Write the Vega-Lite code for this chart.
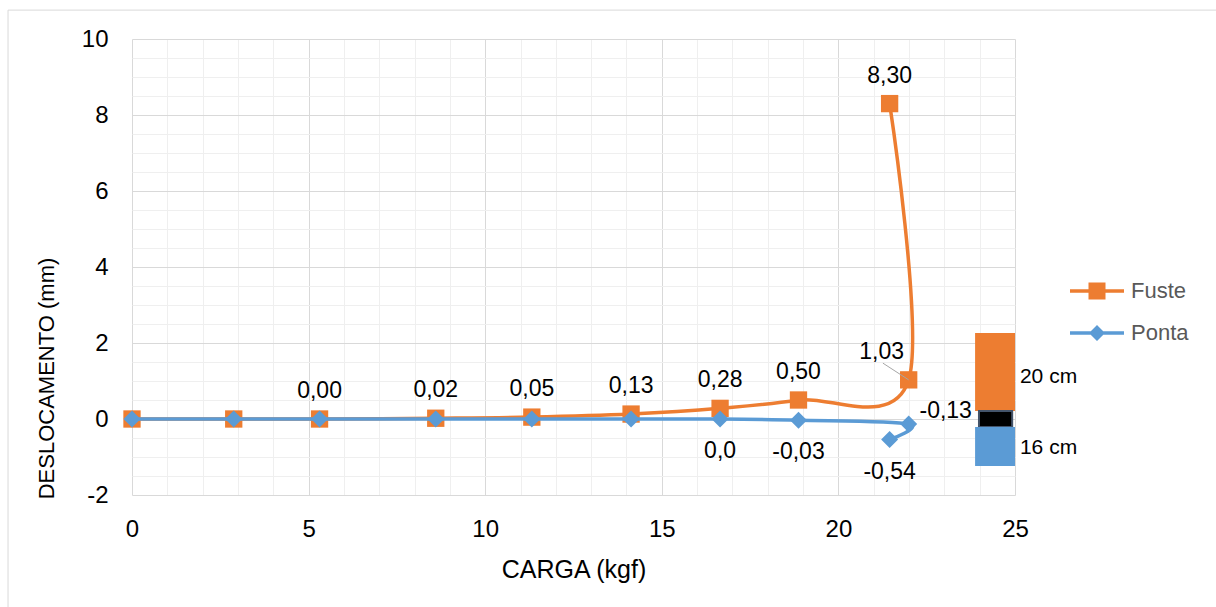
{
  "$schema": "https://vega.github.io/schema/vega-lite/v6.json",
  "width": 883,
  "height": 456,
  "autosize": {"type": "none"},
  "padding": {"left": 132, "top": 39, "right": 201, "bottom": 112},
  "background": "white",
  "config": {
    "font": "Liberation Sans",
    "view": {"stroke": null},
    "text": {"font": "Liberation Sans"}
  },
  "datasets": {
    "pontos": [
      {"serie": "Fuste", "ordem": 0, "carga": 0, "desloc": 0, "rotulo": ""},
      {"serie": "Fuste", "ordem": 1, "carga": 2.88, "desloc": 0, "rotulo": ""},
      {"serie": "Fuste", "ordem": 2, "carga": 5.31, "desloc": 0.0, "rotulo": "0,00"},
      {"serie": "Fuste", "ordem": 3, "carga": 8.6, "desloc": 0.02, "rotulo": "0,02"},
      {"serie": "Fuste", "ordem": 4, "carga": 11.32, "desloc": 0.05, "rotulo": "0,05"},
      {"serie": "Fuste", "ordem": 5, "carga": 14.13, "desloc": 0.13, "rotulo": "0,13"},
      {"serie": "Fuste", "ordem": 6, "carga": 16.65, "desloc": 0.28, "rotulo": "0,28"},
      {"serie": "Fuste", "ordem": 7, "carga": 18.87, "desloc": 0.5, "rotulo": "0,50"},
      {"serie": "Fuste", "ordem": 8, "carga": 21.99, "desloc": 1.03, "rotulo": "1,03"},
      {"serie": "Fuste", "ordem": 9, "carga": 21.45, "desloc": 8.3, "rotulo": "8,30"},
      {"serie": "Ponta", "ordem": 0, "carga": 0, "desloc": 0, "rotulo": ""},
      {"serie": "Ponta", "ordem": 1, "carga": 2.88, "desloc": 0, "rotulo": ""},
      {"serie": "Ponta", "ordem": 2, "carga": 5.31, "desloc": 0, "rotulo": ""},
      {"serie": "Ponta", "ordem": 3, "carga": 8.6, "desloc": 0, "rotulo": ""},
      {"serie": "Ponta", "ordem": 4, "carga": 11.32, "desloc": 0, "rotulo": ""},
      {"serie": "Ponta", "ordem": 5, "carga": 14.13, "desloc": 0, "rotulo": ""},
      {"serie": "Ponta", "ordem": 6, "carga": 16.65, "desloc": 0.0, "rotulo": "0,0"},
      {"serie": "Ponta", "ordem": 7, "carga": 18.87, "desloc": -0.03, "rotulo": "-0,03"},
      {"serie": "Ponta", "ordem": 8, "carga": 21.99, "desloc": -0.13, "rotulo": "-0,13"},
      {"serie": "Ponta", "ordem": 9, "carga": 21.45, "desloc": -0.54, "rotulo": "-0,54"}
    ],
    "borda": [{"carga": -3.51, "carga2": 40, "desloc": 10.76, "desloc2": -10}],
    "guia": [{"carga": 21.26, "carga2": 21.99, "desloc": 1.47, "desloc2": 1.03}],
    "formas": [
      {"parte": "fuste", "carga": 23.87, "carga2": 25.0, "desloc": 2.26, "desloc2": 0.21},
      {"parte": "junta", "carga": 23.98, "carga2": 24.92, "desloc": 0.21, "desloc2": -0.21},
      {"parte": "ponta", "carga": 23.87, "carga2": 25.0, "desloc": -0.21, "desloc2": -1.24}
    ],
    "textos": [
      {"texto": "20 cm", "carga": 25.14, "desloc": 1.1},
      {"texto": "16 cm", "carga": 25.14, "desloc": -0.76}
    ]
  },
  "encoding": {
    "x": {
      "field": "carga", "type": "quantitative", "title": "CARGA (kgf)",
      "scale": {"domain": [0, 25], "nice": false, "zero": false},
      "axis": {
        "values": [0,1,2,3,4,5,6,7,8,9,10,11,12,13,14,15,16,17,18,19,20,21,22,23,24,25],
        "labelExpr": "datum.value % 5 === 0 ? '' + datum.value : ''",
        "labelOverlap": false, "labelBound": false, "labelFlush": false,
        "labelFontSize": 24, "labelColor": "#000000", "labelPadding": 22,
        "domain": false, "ticks": false,
        "grid": true,
        "gridColor": {"condition": {"test": "datum.value % 5 === 0", "value": "#D9D9D9"}, "value": "#EFEFEF"},
        "gridWidth": 1,
        "titleFontSize": 25, "titleFontWeight": "normal", "titleColor": "#000000", "titlePadding": 16
      }
    },
    "y": {
      "field": "desloc", "type": "quantitative", "title": "DESLOCAMENTO (mm)",
      "scale": {"domain": [-2, 10], "nice": false, "zero": false},
      "axis": {
        "values": [-2,-1.5,-1,-0.5,0,0.5,1,1.5,2,2.5,3,3.5,4,4.5,5,5.5,6,6.5,7,7.5,8,8.5,9,9.5,10],
        "labelExpr": "datum.value % 2 === 0 ? '' + datum.value : ''",
        "labelOverlap": false, "labelBound": false, "labelFlush": false,
        "labelFontSize": 24, "labelColor": "#000000", "labelPadding": 24,
        "domain": false, "ticks": false,
        "grid": true,
        "gridColor": {"condition": {"test": "datum.value % 2 === 0", "value": "#D9D9D9"}, "value": "#EFEFEF"},
        "gridWidth": 1,
        "titleFontSize": 22, "titleFontWeight": "normal", "titleColor": "#000000",
        "titleAngle": 270, "titleAlign": "center", "titleBaseline": "middle",
        "titleX": -86, "titleY": 339
      }
    }
  },
  "layer": [
    {
      "data": {"name": "borda"},
      "mark": {"type": "rect", "fill": null, "fillOpacity": 0, "stroke": "#D9D9D9", "strokeWidth": 1, "clip": false},
      "encoding": {
        "x2": {"field": "carga2"},
        "y2": {"field": "desloc2"}
      }
    },
    {
      "data": {"name": "pontos"},
      "transform": [{"filter": "datum.serie === 'Fuste'"}],
      "mark": {"type": "line", "interpolate": "cardinal", "strokeWidth": 3.5},
      "encoding": {
        "color": {
          "field": "serie", "type": "nominal",
          "scale": {"domain": ["Fuste", "Ponta"], "range": ["#ED7D31", "#5B9BD5"]},
          "legend": {
            "title": null, "orient": "none", "legendX": 954, "legendY": 241,
            "padding": 0, "symbolSize": 400, "symbolStrokeWidth": 0,
            "labelFontSize": 22, "labelColor": "#595959", "labelOffset": 23,
            "rowPadding": 20, "labelFont": "Liberation Sans",
            "encode": {
              "symbols": {
                "update": {
                  "shape": {"signal": "datum.value === 'Fuste' ? 'M-2.7,-0.175H-0.85V-0.85H0.85V-0.175H2.7V0.175H0.85V0.85H-0.85V0.175H-2.7Z' : 'M-2.7,-0.175H-0.625L0,-0.8L0.625,-0.175H2.7V0.175H0.625L0,0.8L-0.625,0.175H-2.7Z'"},
                  "fill": {"signal": "datum.value === 'Fuste' ? '#ED7D31' : '#5B9BD5'"},
                  "opacity": {"value": 1},
                  "fillOpacity": {"value": 1},
                  "strokeWidth": {"value": 0}
                }
              }
            }
          }
        },
        "order": {"field": "ordem", "type": "quantitative"}
      }
    },
    {
      "data": {"name": "pontos"},
      "transform": [{"filter": "datum.serie === 'Fuste'"}],
      "mark": {"type": "point", "shape": "square", "filled": true, "size": 300, "opacity": 1},
      "encoding": {
        "color": {"field": "serie", "type": "nominal"}
      }
    },
    {
      "data": {"name": "pontos"},
      "transform": [{"filter": "datum.serie === 'Ponta'"}],
      "mark": {"type": "line", "interpolate": "cardinal", "strokeWidth": 3.5},
      "encoding": {
        "color": {"field": "serie", "type": "nominal"},
        "order": {"field": "ordem", "type": "quantitative"}
      }
    },
    {
      "data": {"name": "pontos"},
      "transform": [{"filter": "datum.serie === 'Ponta'"}],
      "mark": {"type": "point", "shape": "diamond", "filled": true, "size": 290, "opacity": 1},
      "encoding": {
        "color": {"field": "serie", "type": "nominal"}
      }
    },
    {
      "data": {"name": "guia"},
      "mark": {"type": "rule", "color": "#A6A6A6", "strokeWidth": 1},
      "encoding": {
        "x2": {"field": "carga2"},
        "y2": {"field": "desloc2"}
      }
    },
    {
      "data": {"name": "pontos"},
      "transform": [{"filter": "datum.serie === 'Fuste' && datum.rotulo !== '' && datum.ordem !== 8"}],
      "mark": {"type": "text", "fontSize": 23, "color": "#000000", "align": "center", "baseline": "middle", "dy": -28},
      "encoding": {"text": {"field": "rotulo"}}
    },
    {
      "data": {"name": "pontos"},
      "transform": [{"filter": "datum.serie === 'Fuste' && datum.ordem === 8"}],
      "mark": {"type": "text", "fontSize": 23, "color": "#000000", "align": "center", "baseline": "middle", "dx": -27, "dy": -28},
      "encoding": {"text": {"field": "rotulo"}}
    },
    {
      "data": {"name": "pontos"},
      "transform": [{"filter": "datum.serie === 'Ponta' && datum.rotulo !== '' && datum.ordem !== 8"}],
      "mark": {"type": "text", "fontSize": 23, "color": "#000000", "align": "center", "baseline": "middle", "dy": 32},
      "encoding": {"text": {"field": "rotulo"}}
    },
    {
      "data": {"name": "pontos"},
      "transform": [{"filter": "datum.serie === 'Ponta' && datum.ordem === 8"}],
      "mark": {"type": "text", "fontSize": 23, "color": "#000000", "align": "center", "baseline": "middle", "dx": 37, "dy": -13},
      "encoding": {"text": {"field": "rotulo"}}
    },
    {
      "data": {"name": "formas"},
      "transform": [{"filter": "datum.parte === 'fuste'"}],
      "mark": {"type": "rect", "color": "#ED7D31", "clip": false},
      "encoding": {
        "x2": {"field": "carga2"},
        "y2": {"field": "desloc2"}
      }
    },
    {
      "data": {"name": "formas"},
      "transform": [{"filter": "datum.parte === 'junta'"}],
      "mark": {"type": "rect", "fill": "#000000", "stroke": "#44546A", "strokeWidth": 2, "clip": false},
      "encoding": {
        "x2": {"field": "carga2"},
        "y2": {"field": "desloc2"}
      }
    },
    {
      "data": {"name": "formas"},
      "transform": [{"filter": "datum.parte === 'ponta'"}],
      "mark": {"type": "rect", "color": "#5B9BD5", "clip": false},
      "encoding": {
        "x2": {"field": "carga2"},
        "y2": {"field": "desloc2"}
      }
    },
    {
      "data": {"name": "textos"},
      "mark": {"type": "text", "fontSize": 21, "color": "#000000", "align": "left", "baseline": "middle", "clip": false},
      "encoding": {"text": {"field": "texto"}}
    }
  ]
}
